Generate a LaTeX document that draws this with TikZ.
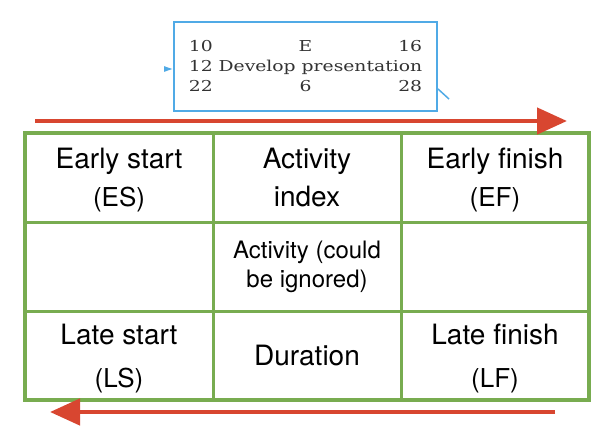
\documentclass[tikz,border=0pt]{standalone}
\usepackage{fontspec}
\setmainfont{TeX Gyre Heros}
\newfontfamily\taskfont[FakeStretch=1.25]{DejaVu Serif}
\usetikzlibrary{arrows.meta,calc}
\definecolor{pertgreen}{RGB}{120,172,80}
\definecolor{pertred}{RGB}{216,70,48}
\definecolor{pertblue}{RGB}{80,170,230}
\newcommand{\shortname}[1]{\smash{\fontsize{26}{38}\selectfont #1}}
\newcommand{\taskrows}[3]{\setbox0\hbox{#2}%
  \vbox{\hbox to\wd0{#1}\copy0\hbox to\wd0{#3}}}
\begin{document}
\begin{tikzpicture}
      [x=1pt,y=-1pt,
       cell/.style={draw=pertgreen,line width=3pt,minimum width=188pt,minimum height=89pt,
                    inner sep=0pt,outer sep=0pt,align=center,font=\fontsize{28}{38}\selectfont},
       task/.style={draw=pertblue,line width=2pt,minimum width=263pt,minimum height=89pt,
                    inner sep=0pt,text=black!80,font=\taskfont\fontsize{15}{20}\selectfont},
       flow/.style={pertred,line width=4.5pt,-{Triangle[length=30pt,width=26pt]}}]
      \useasboundingbox[fill=white] (0,0) rectangle (608,434);

      \node (E) at (305.5,66.5) [task]
        {\taskrows{10\hfill E\hfill 16}{12 Develop presentation}{22\hfill 6\hfill 28}};
      \coordinate (inE) at (164,69);
      \draw[pertblue, line width=2pt, -{Triangle[length=9pt,width=5pt]}] (inE) -- (inE -| E.west);
      \coordinate (outE) at (449,99);
      \draw[pertblue, line width=1.5pt] ($(E.south east)+(0,-23)$) -- (outE);

      \node (ES) at (119,177.5) [cell] {Early start\\\shortname{(ES)}};
      \node (AI) at (307,177.5) [cell] {Activity\\index};
      \node (EF) at (495,177.5) [cell] {Early finish\\\shortname{(EF)}};

      \node (L) at (119,266.5) [cell] {};
      \node (A) at (307,266.5) [cell, font=\fontsize{24}{29}\selectfont] {Activity (could\\be ignored)};
      \node (R) at (495,266.5) [cell] {};

      \node (LS) at (119,355.5) [cell] {Late start\\[5pt]\shortname{(LS)}};
      \node (D)  at (307,355.5) [cell] {Duration};
      \node (LF) at (495,355.5) [cell] {Late finish\\[5pt]\shortname{(LF)}};

      \draw[pertgreen, line width=4.5pt] (ES.north west) rectangle (LF.south east);

      \coordinate (fwd0) at (35,121);
      \coordinate (fwd1) at (567,121);
      \coordinate (bwd0) at (555,412);
      \coordinate (bwd1) at (50,412);
      \draw[flow] (fwd0) -- (fwd1);
      \draw[flow] (bwd0) -- (bwd1);
      \end{tikzpicture}
\end{document}
